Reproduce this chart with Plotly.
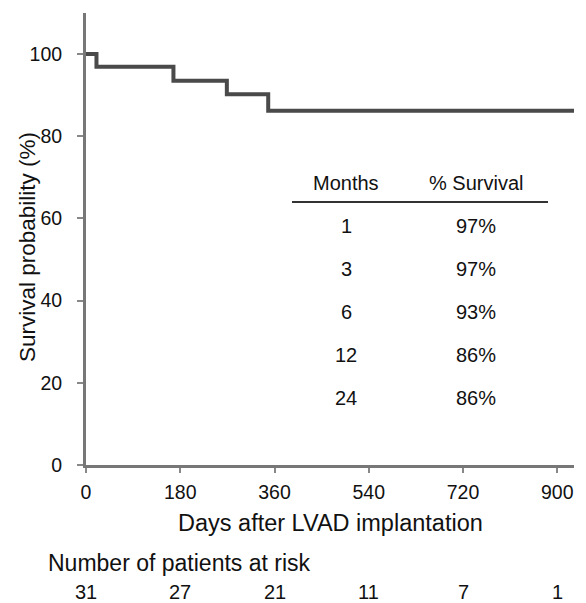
import plotly.graph_objects as go

# Kaplan-Meier step data (days, survival %)
step_days = [0, 20, 167, 269, 348, 932]
step_surv = [100, 96.9, 93.5, 90.2, 86.2, 86.2]

x_ticks = [0, 180, 360, 540, 720, 900]
y_ticks = [0, 20, 40, 60, 80, 100]

table_months = ["1", "3", "6", "12", "24"]
table_surv = ["97%", "97%", "93%", "86%", "86%"]

risk_days = [0, 180, 360, 540, 720, 900]
risk_counts = [31, 27, 21, 11, 7, 1]

FONT = "Liberation Sans, Arial, Helvetica, sans-serif"
OFF = 8  # page body margin
# desired plot area in screen pixels
SX0, SX1, SY0, SY1 = 86, 574, 13, 465
W, H = 586 - OFF, 603 - OFF
L, T = SX0 - OFF, SY0 - OFF
R, B = W - (SX1 - OFF), H - (SY1 - OFF)
PW, PH = SX1 - SX0, SY1 - SY0

def py(pix):  # screen pixel y -> paper
    return (SY1 - pix) / PH

def px(pix):  # screen pixel x -> paper
    return (pix - SX0) / PW

fig = go.Figure()
fig.add_trace(go.Scatter(
    x=step_days, y=step_surv, mode="lines",
    line=dict(shape="hv", color="#4a4a4a", width=4),
    showlegend=False, hoverinfo="skip"))

fig.update_layout(
    width=W, height=H,
    margin=dict(l=L, r=R, t=T, b=B, pad=0),
    paper_bgcolor="white", plot_bgcolor="white",
    font=dict(family=FONT, color="#111", size=19),
    xaxis=dict(range=[0, 932], tickvals=x_ticks, ticktext=[str(v) for v in x_ticks],
               showgrid=False, zeroline=False, showline=True, linecolor="#777",
               linewidth=3, ticks="outside", ticklen=5, tickwidth=2, tickcolor="#888",
               tickfont=dict(size=19.5, family=FONT, color="#111"),
               ticklabelstandoff=3),
    yaxis=dict(range=[0, 110], tickvals=y_ticks, ticktext=[str(v) for v in y_ticks],
               showgrid=False, zeroline=False, showline=True, linecolor="#777",
               linewidth=3, ticks="outside", ticklen=6, tickwidth=2, tickcolor="#888",
               tickfont=dict(size=19.5, family=FONT, color="#111"),
               ticklabelstandoff=11),
)

ann = []
# axis titles
ann.append(dict(text="Days after LVAD implantation", xref="paper", yref="paper",
                x=px(330), y=py(523), xanchor="center", yanchor="middle",
                showarrow=False, font=dict(size=23.5)))
ann.append(dict(text="Survival probability (%)", xref="paper", yref="paper",
                x=px(27), y=py(247), xanchor="center", yanchor="middle",
                textangle=-90, showarrow=False, font=dict(size=22.5)))
# at-risk
ann.append(dict(text="Number of patients at risk", xref="paper", yref="paper",
                x=px(46), y=py(563), xanchor="left", yanchor="middle",
                showarrow=False, font=dict(size=23)))
for d, c in zip(risk_days, risk_counts):
    ann.append(dict(text=str(c), xref="x", yref="paper", x=d, y=py(579),
                    xanchor="center", yanchor="top", showarrow=False,
                    font=dict(size=20)))
# inset table
ann.append(dict(text="Months", xref="paper", yref="paper", x=px(346), y=py(183),
                xanchor="center", yanchor="middle", showarrow=False, font=dict(size=20)))
ann.append(dict(text="% Survival", xref="paper", yref="paper", x=px(476), y=py(183),
                xanchor="center", yanchor="middle", showarrow=False, font=dict(size=20)))
row_y = [226, 269, 312, 355, 398]
for m, s, ry in zip(table_months, table_surv, row_y):
    ann.append(dict(text=m, xref="paper", yref="paper", x=px(346), y=py(ry),
                    xanchor="center", yanchor="middle", showarrow=False, font=dict(size=20)))
    ann.append(dict(text=s, xref="paper", yref="paper", x=px(476), y=py(ry),
                    xanchor="center", yanchor="middle", showarrow=False, font=dict(size=20)))
fig.update_layout(annotations=ann)
fig.add_shape(type="line", xref="paper", yref="paper", x0=px(292), x1=px(548),
              y0=py(202), y1=py(202), line=dict(color="#333", width=2))

fig.write_html("out.html")
